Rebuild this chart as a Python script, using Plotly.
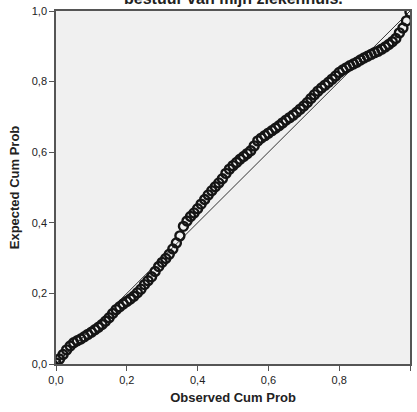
import plotly.graph_objects as go

title_text = "bestuur van mijn ziekenhuis."
x_title = "Observed Cum Prob"
y_title = "Expected Cum Prob"

observed = [0.00, 0.01, 0.02, 0.03, 0.04, 0.05, 0.06, 0.07, 0.08, 0.09,
            0.10, 0.11, 0.12, 0.13, 0.14, 0.15, 0.16, 0.17, 0.18, 0.19,
            0.20, 0.21, 0.22, 0.23, 0.24, 0.25, 0.26, 0.27, 0.28, 0.29,
            0.30, 0.31, 0.32, 0.33, 0.34, 0.35, 0.36, 0.37, 0.38, 0.39,
            0.40, 0.41, 0.42, 0.43, 0.44, 0.45, 0.46, 0.47, 0.48, 0.49,
            0.50, 0.51, 0.52, 0.53, 0.54, 0.55, 0.56, 0.57, 0.58, 0.59,
            0.60, 0.61, 0.62, 0.63, 0.64, 0.65, 0.66, 0.67, 0.68, 0.69,
            0.70, 0.71, 0.72, 0.73, 0.74, 0.75, 0.76, 0.77, 0.78, 0.79,
            0.80, 0.81, 0.82, 0.83, 0.84, 0.85, 0.86, 0.87, 0.88, 0.89,
            0.90, 0.91, 0.92, 0.93, 0.94, 0.95, 0.96, 0.97, 0.98, 0.99, 1.00]
expected = [0.003, 0.014, 0.027, 0.040, 0.051, 0.060, 0.066, 0.071, 0.077, 0.084,
            0.090, 0.097, 0.104, 0.112, 0.121, 0.131, 0.143, 0.154, 0.162, 0.170,
            0.177, 0.184, 0.192, 0.202, 0.212, 0.225, 0.236, 0.247, 0.262, 0.276,
            0.288, 0.299, 0.311, 0.326, 0.343, 0.363, 0.390, 0.405, 0.418, 0.428,
            0.440, 0.453, 0.466, 0.479, 0.491, 0.502, 0.513, 0.525, 0.540, 0.552,
            0.562, 0.571, 0.580, 0.588, 0.596, 0.604, 0.618, 0.632, 0.640, 0.647,
            0.654, 0.661, 0.668, 0.675, 0.683, 0.691, 0.698, 0.705, 0.713, 0.722,
            0.731, 0.741, 0.752, 0.763, 0.773, 0.782, 0.790, 0.798, 0.807, 0.816,
            0.826, 0.833, 0.839, 0.845, 0.850, 0.855, 0.861, 0.867, 0.872, 0.877,
            0.882, 0.886, 0.892, 0.898, 0.905, 0.913, 0.922, 0.938, 0.952, 0.972, 0.997]
diag_x = [0.0, 1.0]
diag_y = [0.0, 1.0]
tick_vals = [0.0, 0.2, 0.4, 0.6, 0.8, 1.0]

fig = go.Figure()
fig.add_trace(go.Scatter(x=diag_x, y=diag_y, mode="lines",
                         line=dict(color="#333333", width=1), hoverinfo="skip"))
fig.add_trace(go.Scatter(x=observed, y=expected, mode="markers",
                         marker=dict(symbol="circle-open", size=9, color="#151515",
                                     line=dict(width=2.4, color="#151515"))))

axis_common = dict(range=[0, 1], tickvals=tick_vals, tickformat=".1f",
                   showgrid=False, zeroline=False, showline=True, mirror=True,
                   linecolor="#555555", linewidth=1.5, ticks="outside", ticklen=5,
                   tickcolor="#555555", tickwidth=1, automargin=False,
                   tickfont=dict(family="Liberation Sans, Arial", size=11, color="#222222"))

fig.update_layout(
    width=417, height=412,
    margin=dict(l=56, r=7, t=11, b=48, pad=0),
    paper_bgcolor="white", plot_bgcolor="#F0F0F0",
    separators=",.",
    showlegend=False,
    font=dict(family="Liberation Sans, Arial", color="#222222"),
    xaxis=dict(**axis_common,
               title=dict(text="<b>" + x_title + "</b>", standoff=8,
                          font=dict(size=13, color="#222222"))),
    yaxis=dict(**axis_common,
               title=dict(text="<b>" + y_title + "</b>", standoff=9,
                          font=dict(size=13, color="#222222"))),
    annotations=[dict(text="<b>" + title_text + "</b>", xref="paper", yref="paper",
                      x=0.5, y=1.0, xanchor="center", yanchor="bottom", yshift=2,
                      showarrow=False, font=dict(size=16, color="#222222"))],
)

fig.write_html("out.html", config={"displayModeBar": False},
               post_script="document.body.style.margin='0';document.body.style.overflow='hidden';")
